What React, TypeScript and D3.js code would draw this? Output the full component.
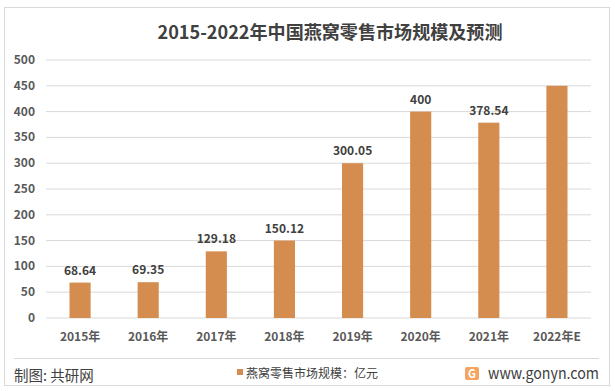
import React from "react";
import * as d3 from "d3";

const categories = ["2015年", "2016年", "2017年", "2018年", "2019年", "2020年", "2021年", "2022年E"];
const values = [68.64, 69.35, 129.18, 150.12, 300.05, 400, 378.54, 450];
const labels = ["68.64", "69.35", "129.18", "150.12", "300.05", "400", "378.54", ""];
const yTicks = [0, 50, 100, 150, 200, 250, 300, 350, 400, 450, 500];

const W = 615, H = 391;
const margin = { left: 46, right: 24, top: 60, bottom: 73 };
const font = "'Microsoft YaHei', 'Noto Sans CJK SC', sans-serif";

export default function App() {
  const x = d3.scaleBand<string>().domain(categories).range([margin.left, W - margin.right]).paddingInner(0.69).paddingOuter(0.345);
  const y = d3.scaleLinear().domain([0, 500]).range([H - margin.bottom, margin.top]);
  return (
    <svg width={W} height={H} style={{ position: "absolute", left: 0, top: 0, background: "#fff" }} fontFamily={font}>
      <rect x={4.5} y={7.5} width={605} height={378} fill="#fff" stroke="#d9d9d9" />
      <text x={330} y={39} textAnchor="middle" fontSize={18} fontWeight="bold" fill="#404040" textLength={345} lengthAdjust="spacingAndGlyphs">2015-2022年中国燕窝零售市场规模及预测</text>
      {yTicks.map(t => (
        <g key={t}>
          <line x1={margin.left} x2={W - margin.right} y1={y(t)} y2={y(t)} stroke="#d9d9d9" />
          <text x={35} y={y(t) + 4} textAnchor="end" fontSize={12} fontWeight="bold" fill="#595959">{t}</text>
        </g>
      ))}
      {categories.map((c, i) => (
        <g key={c}>
          <rect x={x(c)} y={y(values[i])} width={x.bandwidth()} height={y(0) - y(values[i])} fill="#D58C4F" />
          {labels[i] && (
            <text x={x(c)! + x.bandwidth() / 2} y={y(values[i]) - 8} textAnchor="middle" fontSize={12} fontWeight="bold" fill="#404040">{labels[i]}</text>
          )}
          <text x={x(c)! + x.bandwidth() / 2} y={341} textAnchor="middle" fontSize={12} fontWeight="bold" fill="#595959">{c}</text>
        </g>
      ))}
      <line x1={14} x2={599} y1={358.5} y2={358.5} stroke="#d9d9d9" />
      <text x={14} y={381} fontSize={14.5} fill="#404040">制图: 共研网</text>
      <rect x={237} y={369} width={6} height={6} fill="#D58C4F" />
      <text x={246} y={377.5} fontSize={12} fill="#404040" textLength={132} lengthAdjust="spacingAndGlyphs">燕窝零售市场规模：亿元</text>
      <rect x={465} y={367} width={14} height={13} rx={2} fill="#F4A460" />
      <text x={472} y={378} textAnchor="middle" fontSize={11} fontWeight="bold" fill="#fff">G</text>
      <text x={488} y={379} fontSize={15} fill="#404040" textLength={111} lengthAdjust="spacingAndGlyphs">www.gonyn.com</text>
    </svg>
  );
}
